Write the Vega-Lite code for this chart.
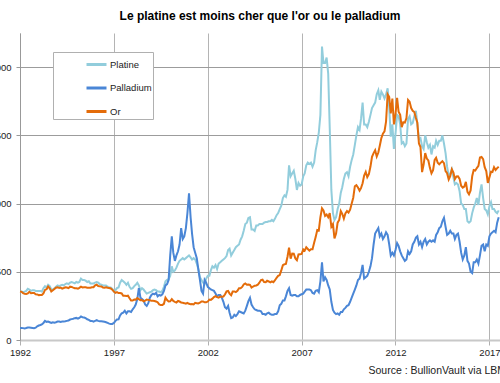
{
  "$schema": "https://vega.github.io/schema/vega-lite/v6.json",
  "width": 480,
  "height": 307,
  "autosize": {"type": "none"},
  "padding": {"left": 20, "top": 33, "right": 0, "bottom": 43},
  "background": "white",
  "config": {"view": {"stroke": null}, "font": "Liberation Sans"},
  "title": {
    "text": "Le platine est moins cher que l'or ou le palladium",
    "fontSize": 12,
    "fontWeight": "bold",
    "font": "Liberation Sans",
    "color": "#000000",
    "anchor": "middle",
    "offset": 10
  },
  "data": {
    "values": [
      {"d":"1992-01-01","Platine":355,"Palladium":88,"Or":355},
      {"d":"1992-02-01","Platine":355,"Palladium":88,"Or":353},
      {"d":"1992-03-01","Platine":350,"Palladium":87,"Or":344},
      {"d":"1992-04-01","Platine":355,"Palladium":85,"Or":338},
      {"d":"1992-05-01","Platine":360,"Palladium":88,"Or":337},
      {"d":"1992-06-01","Platine":375,"Palladium":92,"Or":341},
      {"d":"1992-07-01","Platine":370,"Palladium":92,"Or":353},
      {"d":"1992-08-01","Platine":360,"Palladium":90,"Or":343},
      {"d":"1992-09-01","Platine":365,"Palladium":88,"Or":345},
      {"d":"1992-10-01","Platine":365,"Palladium":86,"Or":344},
      {"d":"1992-11-01","Platine":360,"Palladium":90,"Or":335},
      {"d":"1992-12-01","Platine":360,"Palladium":100,"Or":334},
      {"d":"1993-01-01","Platine":360,"Palladium":106,"Or":329},
      {"d":"1993-02-01","Platine":360,"Palladium":110,"Or":330},
      {"d":"1993-03-01","Platine":355,"Palladium":115,"Or":330},
      {"d":"1993-04-01","Platine":380,"Palladium":125,"Or":342},
      {"d":"1993-05-01","Platine":395,"Palladium":140,"Or":367},
      {"d":"1993-06-01","Platine":385,"Palladium":133,"Or":372},
      {"d":"1993-07-01","Platine":405,"Palladium":135,"Or":392},
      {"d":"1993-08-01","Platine":395,"Palladium":130,"Or":379},
      {"d":"1993-09-01","Platine":370,"Palladium":125,"Or":355},
      {"d":"1993-10-01","Platine":370,"Palladium":130,"Or":364},
      {"d":"1993-11-01","Platine":380,"Palladium":127,"Or":374},
      {"d":"1993-12-01","Platine":390,"Palladium":130,"Or":383},
      {"d":"1994-01-01","Platine":400,"Palladium":135,"Or":387},
      {"d":"1994-02-01","Platine":395,"Palladium":135,"Or":382},
      {"d":"1994-03-01","Platine":400,"Palladium":132,"Or":384},
      {"d":"1994-04-01","Platine":405,"Palladium":135,"Or":377},
      {"d":"1994-05-01","Platine":400,"Palladium":135,"Or":381},
      {"d":"1994-06-01","Platine":410,"Palladium":137,"Or":386},
      {"d":"1994-07-01","Platine":415,"Palladium":140,"Or":385},
      {"d":"1994-08-01","Platine":410,"Palladium":143,"Or":380},
      {"d":"1994-09-01","Platine":420,"Palladium":150,"Or":391},
      {"d":"1994-10-01","Platine":425,"Palladium":153,"Or":389},
      {"d":"1994-11-01","Platine":420,"Palladium":156,"Or":384},
      {"d":"1994-12-01","Platine":415,"Palladium":160,"Or":380},
      {"d":"1995-01-01","Platine":425,"Palladium":162,"Or":379},
      {"d":"1995-02-01","Platine":420,"Palladium":157,"Or":376},
      {"d":"1995-03-01","Platine":425,"Palladium":162,"Or":382},
      {"d":"1995-04-01","Platine":450,"Palladium":172,"Or":391},
      {"d":"1995-05-01","Platine":440,"Palladium":167,"Or":385},
      {"d":"1995-06-01","Platine":440,"Palladium":165,"Or":387},
      {"d":"1995-07-01","Platine":435,"Palladium":160,"Or":386},
      {"d":"1995-08-01","Platine":425,"Palladium":152,"Or":383},
      {"d":"1995-09-01","Platine":430,"Palladium":147,"Or":383},
      {"d":"1995-10-01","Platine":415,"Palladium":140,"Or":383},
      {"d":"1995-11-01","Platine":415,"Palladium":140,"Or":386},
      {"d":"1995-12-01","Platine":415,"Palladium":135,"Or":387},
      {"d":"1996-01-01","Platine":420,"Palladium":140,"Or":400},
      {"d":"1996-02-01","Platine":425,"Palladium":145,"Or":405},
      {"d":"1996-03-01","Platine":420,"Palladium":140,"Or":396},
      {"d":"1996-04-01","Platine":410,"Palladium":138,"Or":393},
      {"d":"1996-05-01","Platine":405,"Palladium":137,"Or":392},
      {"d":"1996-06-01","Platine":400,"Palladium":135,"Or":385},
      {"d":"1996-07-01","Platine":400,"Palladium":133,"Or":383},
      {"d":"1996-08-01","Platine":400,"Palladium":130,"Or":387},
      {"d":"1996-09-01","Platine":390,"Palladium":125,"Or":383},
      {"d":"1996-10-01","Platine":385,"Palladium":120,"Or":381},
      {"d":"1996-11-01","Platine":385,"Palladium":118,"Or":378},
      {"d":"1996-12-01","Platine":375,"Palladium":118,"Or":369},
      {"d":"1997-01-01","Platine":355,"Palladium":125,"Or":355},
      {"d":"1997-02-01","Platine":365,"Palladium":140,"Or":346},
      {"d":"1997-03-01","Platine":380,"Palladium":150,"Or":351},
      {"d":"1997-04-01","Platine":385,"Palladium":152,"Or":344},
      {"d":"1997-05-01","Platine":420,"Palladium":180,"Or":344},
      {"d":"1997-06-01","Platine":440,"Palladium":195,"Or":341},
      {"d":"1997-07-01","Platine":430,"Palladium":200,"Or":324},
      {"d":"1997-08-01","Platine":420,"Palladium":215,"Or":324},
      {"d":"1997-09-01","Platine":405,"Palladium":195,"Or":323},
      {"d":"1997-10-01","Platine":420,"Palladium":210,"Or":325},
      {"d":"1997-11-01","Platine":390,"Palladium":210,"Or":306},
      {"d":"1997-12-01","Platine":375,"Palladium":205,"Or":289},
      {"d":"1998-01-01","Platine":380,"Palladium":225,"Or":289},
      {"d":"1998-02-01","Platine":395,"Palladium":240,"Or":297},
      {"d":"1998-03-01","Platine":405,"Palladium":260,"Or":296},
      {"d":"1998-04-01","Platine":420,"Palladium":300,"Or":308},
      {"d":"1998-05-01","Platine":400,"Palladium":380,"Or":299},
      {"d":"1998-06-01","Platine":365,"Palladium":310,"Or":292},
      {"d":"1998-07-01","Platine":380,"Palladium":300,"Or":293},
      {"d":"1998-08-01","Platine":370,"Palladium":290,"Or":284},
      {"d":"1998-09-01","Platine":355,"Palladium":260,"Or":289},
      {"d":"1998-10-01","Platine":340,"Palladium":250,"Or":296},
      {"d":"1998-11-01","Platine":345,"Palladium":270,"Or":294},
      {"d":"1998-12-01","Platine":350,"Palladium":310,"Or":291},
      {"d":"1999-01-01","Platine":355,"Palladium":330,"Or":287},
      {"d":"1999-02-01","Platine":365,"Palladium":340,"Or":287},
      {"d":"1999-03-01","Platine":370,"Palladium":335,"Or":286},
      {"d":"1999-04-01","Platine":365,"Palladium":345,"Or":282},
      {"d":"1999-05-01","Platine":355,"Palladium":320,"Or":277},
      {"d":"1999-06-01","Platine":355,"Palladium":330,"Or":261},
      {"d":"1999-07-01","Platine":350,"Palladium":325,"Or":256},
      {"d":"1999-08-01","Platine":360,"Palladium":335,"Or":257},
      {"d":"1999-09-01","Platine":390,"Palladium":360,"Or":265},
      {"d":"1999-10-01","Platine":430,"Palladium":400,"Or":310},
      {"d":"1999-11-01","Platine":440,"Palladium":410,"Or":293},
      {"d":"1999-12-01","Platine":445,"Palladium":440,"Or":283},
      {"d":"2000-01-01","Platine":470,"Palladium":620,"Or":284},
      {"d":"2000-02-01","Platine":540,"Palladium":760,"Or":300},
      {"d":"2000-03-01","Platine":500,"Palladium":640,"Or":286},
      {"d":"2000-04-01","Platine":510,"Palladium":580,"Or":280},
      {"d":"2000-05-01","Platine":530,"Palladium":620,"Or":275},
      {"d":"2000-06-01","Platine":560,"Palladium":650,"Or":286},
      {"d":"2000-07-01","Platine":580,"Palladium":700,"Or":282},
      {"d":"2000-08-01","Platine":590,"Palladium":820,"Or":275},
      {"d":"2000-09-01","Platine":600,"Palladium":740,"Or":273},
      {"d":"2000-10-01","Platine":590,"Palladium":760,"Or":270},
      {"d":"2000-11-01","Platine":600,"Palladium":820,"Or":266},
      {"d":"2000-12-01","Platine":610,"Palladium":930,"Or":272},
      {"d":"2001-01-01","Platine":620,"Palladium":1075,"Or":265},
      {"d":"2001-02-01","Platine":605,"Palladium":900,"Or":262},
      {"d":"2001-03-01","Platine":590,"Palladium":780,"Or":263},
      {"d":"2001-04-01","Platine":600,"Palladium":680,"Or":261},
      {"d":"2001-05-01","Platine":590,"Palladium":640,"Or":272},
      {"d":"2001-06-01","Platine":560,"Palladium":600,"Or":270},
      {"d":"2001-07-01","Platine":520,"Palladium":520,"Or":268},
      {"d":"2001-08-01","Platine":460,"Palladium":440,"Or":273},
      {"d":"2001-09-01","Platine":440,"Palladium":360,"Or":283},
      {"d":"2001-10-01","Platine":420,"Palladium":340,"Or":283},
      {"d":"2001-11-01","Platine":410,"Palladium":440,"Or":276},
      {"d":"2001-12-01","Platine":450,"Palladium":420,"Or":276},
      {"d":"2002-01-01","Platine":470,"Palladium":390,"Or":282},
      {"d":"2002-02-01","Platine":470,"Palladium":380,"Or":296},
      {"d":"2002-03-01","Platine":510,"Palladium":370,"Or":294},
      {"d":"2002-04-01","Platine":540,"Palladium":365,"Or":303},
      {"d":"2002-05-01","Platine":530,"Palladium":360,"Or":314},
      {"d":"2002-06-01","Platine":550,"Palladium":340,"Or":321},
      {"d":"2002-07-01","Platine":520,"Palladium":320,"Or":314},
      {"d":"2002-08-01","Platine":560,"Palladium":330,"Or":310},
      {"d":"2002-09-01","Platine":570,"Palladium":330,"Or":319},
      {"d":"2002-10-01","Platine":580,"Palladium":310,"Or":317},
      {"d":"2002-11-01","Platine":590,"Palladium":280,"Or":319},
      {"d":"2002-12-01","Platine":600,"Palladium":240,"Or":333},
      {"d":"2003-01-01","Platine":615,"Palladium":230,"Or":356},
      {"d":"2003-02-01","Platine":660,"Palladium":250,"Or":359},
      {"d":"2003-03-01","Platine":670,"Palladium":200,"Or":340},
      {"d":"2003-04-01","Platine":620,"Palladium":160,"Or":328},
      {"d":"2003-05-01","Platine":640,"Palladium":165,"Or":355},
      {"d":"2003-06-01","Platine":660,"Palladium":185,"Or":356},
      {"d":"2003-07-01","Platine":680,"Palladium":175,"Or":351},
      {"d":"2003-08-01","Platine":690,"Palladium":190,"Or":360},
      {"d":"2003-09-01","Platine":700,"Palladium":210,"Or":379},
      {"d":"2003-10-01","Platine":735,"Palladium":205,"Or":379},
      {"d":"2003-11-01","Platine":760,"Palladium":200,"Or":389},
      {"d":"2003-12-01","Platine":800,"Palladium":195,"Or":407},
      {"d":"2004-01-01","Platine":850,"Palladium":215,"Or":414},
      {"d":"2004-02-01","Platine":860,"Palladium":250,"Or":405},
      {"d":"2004-03-01","Platine":895,"Palladium":285,"Or":406},
      {"d":"2004-04-01","Platine":900,"Palladium":310,"Or":404},
      {"d":"2004-05-01","Platine":810,"Palladium":260,"Or":384},
      {"d":"2004-06-01","Platine":810,"Palladium":240,"Or":392},
      {"d":"2004-07-01","Platine":800,"Palladium":225,"Or":398},
      {"d":"2004-08-01","Platine":840,"Palladium":220,"Or":400},
      {"d":"2004-09-01","Platine":840,"Palladium":215,"Or":406},
      {"d":"2004-10-01","Platine":850,"Palladium":215,"Or":420},
      {"d":"2004-11-01","Platine":850,"Palladium":210,"Or":439},
      {"d":"2004-12-01","Platine":850,"Palladium":190,"Or":442},
      {"d":"2005-01-01","Platine":860,"Palladium":190,"Or":424},
      {"d":"2005-02-01","Platine":865,"Palladium":185,"Or":423},
      {"d":"2005-03-01","Platine":865,"Palladium":195,"Or":434},
      {"d":"2005-04-01","Platine":870,"Palladium":200,"Or":429},
      {"d":"2005-05-01","Platine":870,"Palladium":190,"Or":422},
      {"d":"2005-06-01","Platine":880,"Palladium":185,"Or":430},
      {"d":"2005-07-01","Platine":870,"Palladium":185,"Or":424},
      {"d":"2005-08-01","Platine":890,"Palladium":190,"Or":438},
      {"d":"2005-09-01","Platine":915,"Palladium":190,"Or":456},
      {"d":"2005-10-01","Platine":930,"Palladium":210,"Or":470},
      {"d":"2005-11-01","Platine":960,"Palladium":255,"Or":476},
      {"d":"2005-12-01","Platine":985,"Palladium":265,"Or":510},
      {"d":"2006-01-01","Platine":1040,"Palladium":290,"Or":549},
      {"d":"2006-02-01","Platine":1060,"Palladium":290,"Or":555},
      {"d":"2006-03-01","Platine":1050,"Palladium":320,"Or":557},
      {"d":"2006-04-01","Platine":1100,"Palladium":360,"Or":610},
      {"d":"2006-05-01","Platine":1280,"Palladium":380,"Or":676},
      {"d":"2006-06-01","Platine":1200,"Palladium":330,"Or":596},
      {"d":"2006-07-01","Platine":1220,"Palladium":325,"Or":633},
      {"d":"2006-08-01","Platine":1240,"Palladium":330,"Or":632},
      {"d":"2006-09-01","Platine":1180,"Palladium":330,"Or":598},
      {"d":"2006-10-01","Platine":1100,"Palladium":320,"Or":585},
      {"d":"2006-11-01","Platine":1150,"Palladium":320,"Or":627},
      {"d":"2006-12-01","Platine":1130,"Palladium":330,"Or":629},
      {"d":"2007-01-01","Platine":1140,"Palladium":335,"Or":631},
      {"d":"2007-02-01","Platine":1200,"Palladium":340,"Or":664},
      {"d":"2007-03-01","Platine":1220,"Palladium":355,"Or":655},
      {"d":"2007-04-01","Platine":1280,"Palladium":370,"Or":679},
      {"d":"2007-05-01","Platine":1300,"Palladium":370,"Or":667},
      {"d":"2007-06-01","Platine":1290,"Palladium":370,"Or":655},
      {"d":"2007-07-01","Platine":1300,"Palladium":365,"Or":665},
      {"d":"2007-08-01","Platine":1270,"Palladium":345,"Or":665},
      {"d":"2007-09-01","Platine":1300,"Palladium":340,"Or":712},
      {"d":"2007-10-01","Platine":1390,"Palladium":360,"Or":754},
      {"d":"2007-11-01","Platine":1450,"Palladium":365,"Or":806},
      {"d":"2007-12-01","Platine":1520,"Palladium":350,"Or":803},
      {"d":"2008-01-01","Platine":1650,"Palladium":430,"Or":900},
      {"d":"2008-02-01","Platine":2150,"Palladium":570,"Or":965},
      {"d":"2008-03-01","Platine":2030,"Palladium":430,"Or":950},
      {"d":"2008-04-01","Platine":2030,"Palladium":460,"Or":910},
      {"d":"2008-05-01","Platine":2070,"Palladium":440,"Or":920},
      {"d":"2008-06-01","Platine":1950,"Palladium":400,"Or":900},
      {"d":"2008-07-01","Platine":1550,"Palladium":370,"Or":930},
      {"d":"2008-08-01","Platine":1100,"Palladium":280,"Or":830},
      {"d":"2008-09-01","Platine":930,"Palladium":220,"Or":850},
      {"d":"2008-10-01","Platine":880,"Palladium":200,"Or":745},
      {"d":"2008-11-01","Platine":900,"Palladium":190,"Or":780},
      {"d":"2008-12-01","Platine":960,"Palladium":195,"Or":860},
      {"d":"2009-01-01","Platine":1000,"Palladium":185,"Or":880},
      {"d":"2009-02-01","Platine":1080,"Palladium":205,"Or":945},
      {"d":"2009-03-01","Platine":1120,"Palladium":205,"Or":925},
      {"d":"2009-04-01","Platine":1180,"Palladium":225,"Or":890},
      {"d":"2009-05-01","Platine":1220,"Palladium":235,"Or":928},
      {"d":"2009-06-01","Platine":1230,"Palladium":250,"Or":945},
      {"d":"2009-07-01","Platine":1200,"Palladium":255,"Or":934},
      {"d":"2009-08-01","Platine":1270,"Palladium":280,"Or":955},
      {"d":"2009-09-01","Platine":1320,"Palladium":310,"Or":1000},
      {"d":"2009-10-01","Platine":1360,"Palladium":340,"Or":1043},
      {"d":"2009-11-01","Platine":1430,"Palladium":370,"Or":1127},
      {"d":"2009-12-01","Platine":1500,"Palladium":400,"Or":1135},
      {"d":"2010-01-01","Platine":1560,"Palladium":440,"Or":1118},
      {"d":"2010-02-01","Platine":1540,"Palladium":450,"Or":1095},
      {"d":"2010-03-01","Platine":1620,"Palladium":490,"Or":1113},
      {"d":"2010-04-01","Platine":1740,"Palladium":550,"Or":1149},
      {"d":"2010-05-01","Platine":1580,"Palladium":450,"Or":1205},
      {"d":"2010-06-01","Platine":1580,"Palladium":460,"Or":1232},
      {"d":"2010-07-01","Platine":1560,"Palladium":470,"Or":1193},
      {"d":"2010-08-01","Platine":1600,"Palladium":500,"Or":1215},
      {"d":"2010-09-01","Platine":1650,"Palladium":540,"Or":1271},
      {"d":"2010-10-01","Platine":1700,"Palladium":600,"Or":1343},
      {"d":"2010-11-01","Platine":1720,"Palladium":700,"Or":1370},
      {"d":"2010-12-01","Platine":1740,"Palladium":780,"Or":1391},
      {"d":"2011-01-01","Platine":1800,"Palladium":800,"Or":1345},
      {"d":"2011-02-01","Platine":1830,"Palladium":820,"Or":1374},
      {"d":"2011-03-01","Platine":1760,"Palladium":760,"Or":1424},
      {"d":"2011-04-01","Platine":1820,"Palladium":780,"Or":1480},
      {"d":"2011-05-01","Platine":1800,"Palladium":740,"Or":1512},
      {"d":"2011-06-01","Platine":1770,"Palladium":760,"Or":1529},
      {"d":"2011-07-01","Platine":1800,"Palladium":790,"Or":1600},
      {"d":"2011-08-01","Platine":1845,"Palladium":770,"Or":1800},
      {"d":"2011-09-01","Platine":1700,"Palladium":700,"Or":1780},
      {"d":"2011-10-01","Platine":1490,"Palladium":620,"Or":1660},
      {"d":"2011-11-01","Platine":1580,"Palladium":640,"Or":1770},
      {"d":"2011-12-01","Platine":1400,"Palladium":620,"Or":1580},
      {"d":"2012-01-01","Platine":1510,"Palladium":660,"Or":1656},
      {"d":"2012-02-01","Platine":1650,"Palladium":710,"Or":1775},
      {"d":"2012-03-01","Platine":1640,"Palladium":690,"Or":1673},
      {"d":"2012-04-01","Platine":1580,"Palladium":650,"Or":1650},
      {"d":"2012-05-01","Platine":1440,"Palladium":620,"Or":1560},
      {"d":"2012-06-01","Platine":1450,"Palladium":600,"Or":1596},
      {"d":"2012-07-01","Platine":1420,"Palladium":580,"Or":1593},
      {"d":"2012-08-01","Platine":1440,"Palladium":590,"Or":1626},
      {"d":"2012-09-01","Platine":1620,"Palladium":650,"Or":1760},
      {"d":"2012-10-01","Platine":1640,"Palladium":630,"Or":1747},
      {"d":"2012-11-01","Platine":1580,"Palladium":650,"Or":1700},
      {"d":"2012-12-01","Platine":1590,"Palladium":700,"Or":1680},
      {"d":"2013-01-01","Platine":1640,"Palladium":720,"Or":1671},
      {"d":"2013-02-01","Platine":1680,"Palladium":750,"Or":1627},
      {"d":"2013-03-01","Platine":1580,"Palladium":760,"Or":1593},
      {"d":"2013-04-01","Platine":1470,"Palladium":700,"Or":1440},
      {"d":"2013-05-01","Platine":1480,"Palladium":720,"Or":1414},
      {"d":"2013-06-01","Platine":1420,"Palladium":680,"Or":1230},
      {"d":"2013-07-01","Platine":1400,"Palladium":720,"Or":1286},
      {"d":"2013-08-01","Platine":1500,"Palladium":740,"Or":1370},
      {"d":"2013-09-01","Platine":1450,"Palladium":700,"Or":1330},
      {"d":"2013-10-01","Platine":1410,"Palladium":720,"Or":1316},
      {"d":"2013-11-01","Platine":1430,"Palladium":730,"Or":1260},
      {"d":"2013-12-01","Platine":1360,"Palladium":720,"Or":1222},
      {"d":"2014-01-01","Platine":1420,"Palladium":730,"Or":1244},
      {"d":"2014-02-01","Platine":1410,"Palladium":720,"Or":1320},
      {"d":"2014-03-01","Platine":1460,"Palladium":770,"Or":1336},
      {"d":"2014-04-01","Platine":1430,"Palladium":790,"Or":1299},
      {"d":"2014-05-01","Platine":1460,"Palladium":820,"Or":1288},
      {"d":"2014-06-01","Platine":1460,"Palladium":830,"Or":1300},
      {"d":"2014-07-01","Platine":1500,"Palladium":870,"Or":1311},
      {"d":"2014-08-01","Platine":1440,"Palladium":895,"Or":1296},
      {"d":"2014-09-01","Platine":1370,"Palladium":830,"Or":1238},
      {"d":"2014-10-01","Platine":1270,"Palladium":770,"Or":1222},
      {"d":"2014-11-01","Platine":1200,"Palladium":780,"Or":1176},
      {"d":"2014-12-01","Platine":1220,"Palladium":800,"Or":1200},
      {"d":"2015-01-01","Platine":1250,"Palladium":780,"Or":1251},
      {"d":"2015-02-01","Platine":1190,"Palladium":780,"Or":1227},
      {"d":"2015-03-01","Platine":1140,"Palladium":740,"Or":1179},
      {"d":"2015-04-01","Platine":1150,"Palladium":770,"Or":1198},
      {"d":"2015-05-01","Platine":1140,"Palladium":780,"Or":1199},
      {"d":"2015-06-01","Platine":1090,"Palladium":720,"Or":1181},
      {"d":"2015-07-01","Platine":1000,"Palladium":640,"Or":1131},
      {"d":"2015-08-01","Platine":990,"Palladium":590,"Or":1117},
      {"d":"2015-09-01","Platine":960,"Palladium":620,"Or":1125},
      {"d":"2015-10-01","Platine":960,"Palladium":680,"Or":1159},
      {"d":"2015-11-01","Platine":870,"Palladium":580,"Or":1086},
      {"d":"2015-12-01","Platine":860,"Palladium":560,"Or":1068},
      {"d":"2016-01-01","Platine":870,"Palladium":500,"Or":1096},
      {"d":"2016-02-01","Platine":930,"Palladium":490,"Or":1200},
      {"d":"2016-03-01","Platine":970,"Palladium":570,"Or":1246},
      {"d":"2016-04-01","Platine":1000,"Palladium":570,"Or":1242},
      {"d":"2016-05-01","Platine":1040,"Palladium":590,"Or":1260},
      {"d":"2016-06-01","Platine":990,"Palladium":560,"Or":1276},
      {"d":"2016-07-01","Platine":1080,"Palladium":620,"Or":1337},
      {"d":"2016-08-01","Platine":1140,"Palladium":690,"Or":1341},
      {"d":"2016-09-01","Platine":1040,"Palladium":700,"Or":1326},
      {"d":"2016-10-01","Platine":960,"Palladium":650,"Or":1267},
      {"d":"2016-11-01","Platine":950,"Palladium":700,"Or":1238},
      {"d":"2016-12-01","Platine":920,"Palladium":690,"Or":1151},
      {"d":"2017-01-01","Platine":980,"Palladium":760,"Or":1192},
      {"d":"2017-02-01","Platine":1010,"Palladium":780,"Or":1234},
      {"d":"2017-03-01","Platine":960,"Palladium":790,"Or":1231},
      {"d":"2017-04-01","Platine":960,"Palladium":800,"Or":1266},
      {"d":"2017-05-01","Platine":940,"Palladium":790,"Or":1246},
      {"d":"2017-06-01","Platine":930,"Palladium":860,"Or":1260},
      {"d":"2017-07-01","Platine":950,"Palladium":900,"Or":1270}
    ]
  },
  "transform": [
    {"fold": ["Platine", "Palladium", "Or"], "as": ["metal", "prix"]}
  ],
  "mark": {"type": "line", "strokeWidth": 2, "interpolate": "linear"},
  "encoding": {
    "x": {
      "field": "d",
      "type": "temporal",
      "scale": {"domain": ["1992-01-01", "2017-07-26"]},
      "axis": {
        "values": ["1992-01-01", "1997-01-01", "2002-01-01", "2007-01-01", "2012-01-01", "2017-01-01"],
        "format": "%Y",
        "labelFontSize": 9.5,
        "labelColor": "#222222",
        "labelFont": "Liberation Sans",
        "labelPadding": 2,
        "labelFlush": false,
        "labelOverlap": false,
        "tickSize": 5,
        "tickColor": "#b0b0b0",
        "domainColor": "#c8c8c8",
        "domainWidth": 2,
        "gridColor": "#b4b4b4",
        "gridWidth": 1,
        "title": "Source : BullionVault via LBMA",
        "titleFont": "Liberation Sans",
        "titleFontSize": 10.5,
        "titleFontWeight": "normal",
        "titleColor": "#222222",
        "titleAlign": "left",
        "titleAnchor": "start",
        "titleX": 348,
        "titleY": 25
      }
    },
    "y": {
      "field": "prix",
      "type": "quantitative",
      "scale": {"domain": [0, 2250], "nice": false},
      "axis": {
        "values": [0, 500, 1000, 1500, 2000],
        "title": null,
        "labelFontSize": 9.5,
        "labelColor": "#222222",
        "labelFont": "Liberation Sans",
        "labelPadding": 5,
        "tickSize": 4,
        "tickColor": "#999999",
        "domainColor": "#999999",
        "gridColor": "#9c9c9c",
        "gridWidth": 1
      }
    },
    "color": {
      "field": "metal",
      "type": "nominal",
      "sort": ["Platine", "Palladium", "Or"],
      "scale": {"domain": ["Platine", "Palladium", "Or"], "range": ["#92CDDC", "#4A86D6", "#E46C0A"]},
      "legend": {
        "title": null,
        "orient": "none",
        "legendX": 33,
        "legendY": 19,
        "direction": "vertical",
        "fillColor": "white",
        "strokeColor": "#b0b0b0",
        "padding": 1,
        "symbolType": "stroke",
        "symbolSize": 400,
        "symbolStrokeWidth": 3,
        "symbolOffset": 31,
        "labelOffset": 2,
        "labelFontSize": 9.5,
        "labelFont": "Liberation Sans",
        "labelColor": "#222222",
        "labelExpr": "datum.label + '\u00a0\u00a0\u00a0\u00a0\u00a0\u00a0\u00a0\u00a0\u00a0\u00a0\u00a0'",
        "rowPadding": 5.5
      }
    }
  }
}
